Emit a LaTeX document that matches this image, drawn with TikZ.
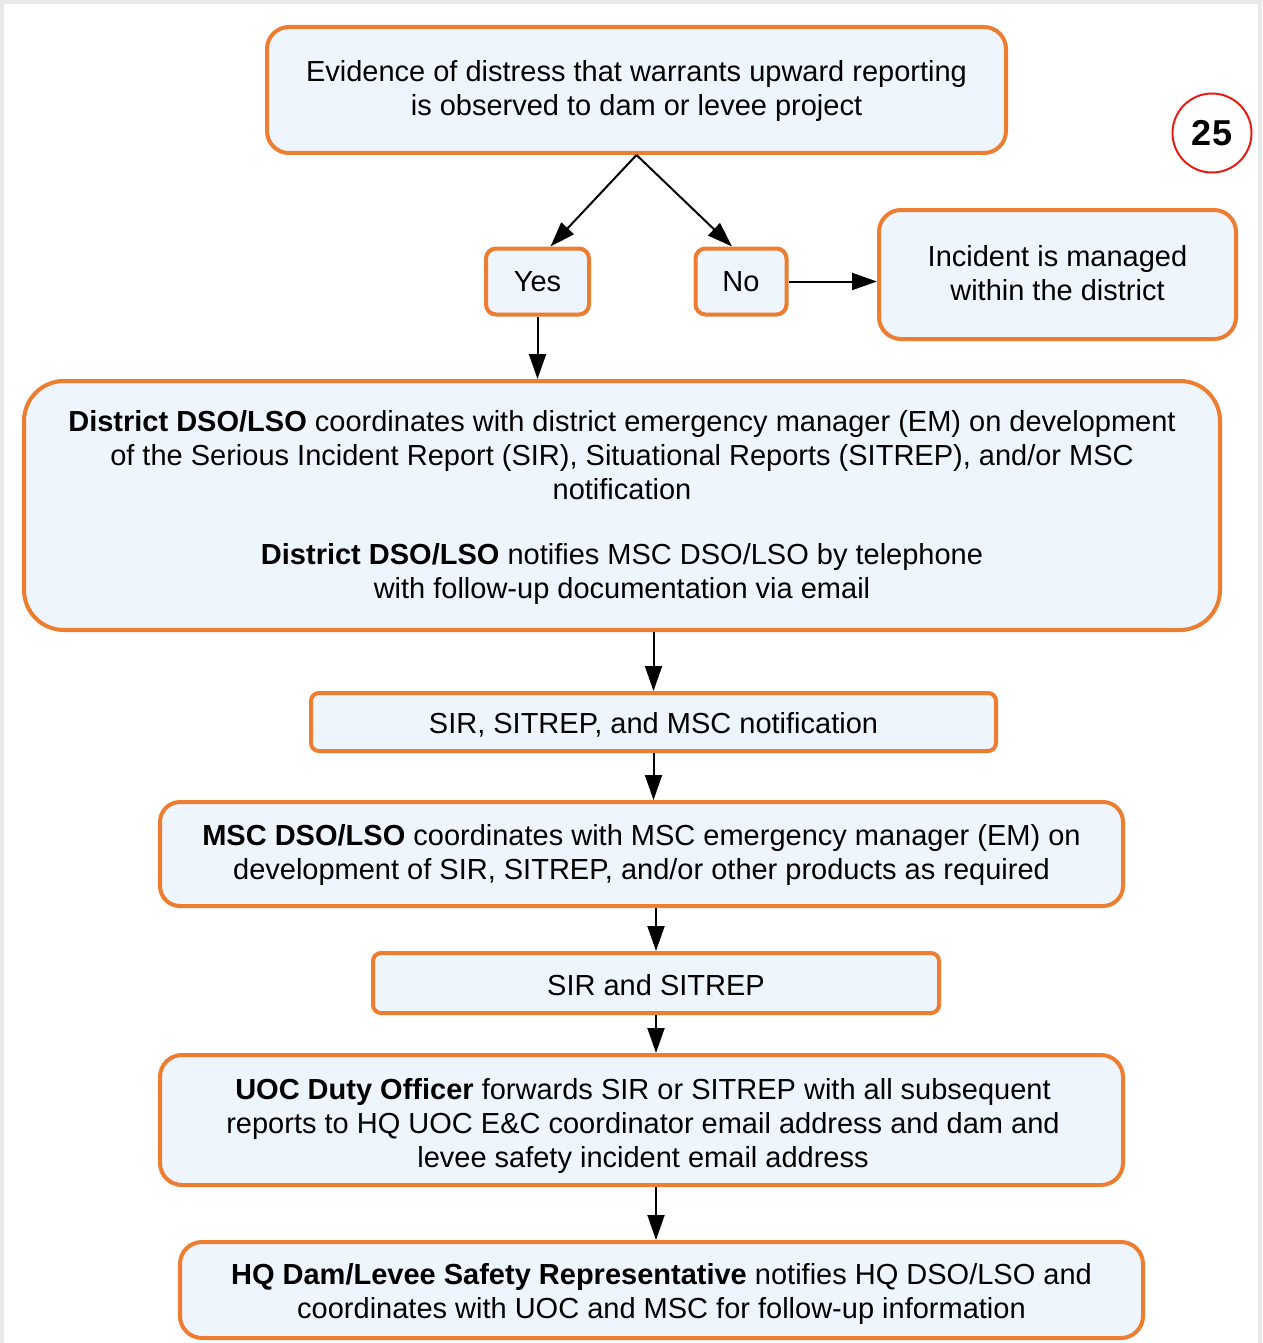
\documentclass[tikz,border=0pt]{standalone}
\usepackage{fontspec}
\setmainfont{Liberation Sans}
\usetikzlibrary{arrows.meta}
\definecolor{boxorange}{RGB}{237,125,49}
\definecolor{boxfill}{RGB}{238,245,253}
\definecolor{edgegray}{RGB}{232,234,234}
\definecolor{circred}{RGB}{232,28,18}
\begin{document}
\begin{tikzpicture}[x=1pt,y=-1pt,
  box/.style={draw=boxorange, line width=4pt, fill=boxfill, rounded corners=#1, inner sep=0pt},
  box/.default=22pt,
  txt/.style={align=center, inner sep=0pt, font=\fontsize{29}{34}\selectfont},
  arr/.style={-{Triangle[length=25pt,width=17pt]}, line width=2pt, black}]
\useasboundingbox (0,0) rectangle (1262,1343);
\fill[edgegray] (0,0) rectangle (1262,1343);
\fill[white] (4,4) rectangle (1258,1343);

% boxes
\node[box, minimum width=739pt, minimum height=126pt] (top) at (636.5,90) {};
\node[box=10pt, minimum width=103pt, minimum height=66pt] (yes) at (537.5,281.5) {};
\node[box=10pt, minimum width=91pt, minimum height=66pt] (no) at (741,281.5) {};
\node[box, minimum width=357pt, minimum height=129pt] (inc) at (1057.5,274.5) {};
\node[box=40pt, minimum width=1196pt, minimum height=249pt] (dist) at (622,505.5) {};
\node[box=8pt, minimum width=685pt, minimum height=58pt] (sir1) at (653.5,722) {};
\node[box=20pt, minimum width=963pt, minimum height=104pt] (msc) at (641.5,854) {};
\node[box=8pt, minimum width=566pt, minimum height=60pt] (sir2) at (656,983) {};
\node[box, minimum width=963pt, minimum height=130pt] (uoc) at (641.5,1120) {};
\node[box, minimum width=963pt, minimum height=96pt] (hq) at (661.5,1290) {};

% texts
\node[txt] (topT) at (636.5,91.3)
  {\strut Evidence of distress that warrants upward reporting\\is observed to dam or levee project\strut};
\node[txt] (yesT) at (537.5,284.9) {\strut Yes\strut};
\node[txt] (noT) at (741,284.9) {\strut No\strut};
\node[txt] (incT) at (1057.5,276.2) {\strut Incident is managed\\within the district\strut};
\node[txt] (distT) at (622,508.2)
  {\strut{\bfseries District DSO/LSO} coordinates with district emergency manager (EM) on development\\
   of the Serious Incident Report (SIR), Situational Reports (SITREP), and/or MSC\\
   notification\\[31pt]
   {\bfseries District DSO/LSO} notifies MSC DSO/LSO by telephone\\
   with follow-up documentation via email\strut};
\node[txt] (sir1T) at (653.5,726.5) {\strut SIR, SITREP, and MSC notification\strut};
\node[txt] (mscT) at (641.5,855.9)
  {\strut{\bfseries MSC DSO/LSO} coordinates with MSC emergency manager (EM) on\\
   development of SIR, SITREP, and/or other products as required\strut};
\node[txt] (sir2T) at (656,988.2) {\strut SIR and SITREP\strut};
\node[txt] (uocT) at (643,1126.7)
  {\strut{\bfseries UOC Duty Officer} forwards SIR or SITREP with all subsequent\\
   reports to HQ UOC E\&C coordinator email address and dam and\\
   levee safety incident email address\strut};
\node[txt] (hqT) at (661.5,1295)
  {\strut{\bfseries HQ Dam/Levee Safety Representative} notifies HQ DSO/LSO and\\
   coordinates with UOC and MSC for follow-up information\strut};

\node[draw=circred, line width=2pt, circle, minimum size=79pt, inner sep=0pt,
  font=\bfseries\fontsize{36}{40}\selectfont] (num) at (1212,133) {25};

% connectors
\draw[arr] (top.south) -- ([xshift=13pt]yes.north);
\draw[arr] (top.south) -- ([xshift=-9pt]no.north);
\draw[arr] (no.east) -- (no.east -| inc.west);
\draw[arr] (yes.south) -- (yes.south |- dist.north);
\draw[arr] (dist.south -| sir1.north) -- (sir1.north);
\draw[arr] (sir1.south) -- (sir1.south |- msc.north);
\draw[arr] (msc.south -| sir2.north) -- (sir2.north);
\draw[arr] (sir2.south) -- (sir2.south |- uoc.north);
\draw[arr] (uoc.south -| sir2.south) -- (sir2.south |- hq.north);
\end{tikzpicture}
\end{document}
